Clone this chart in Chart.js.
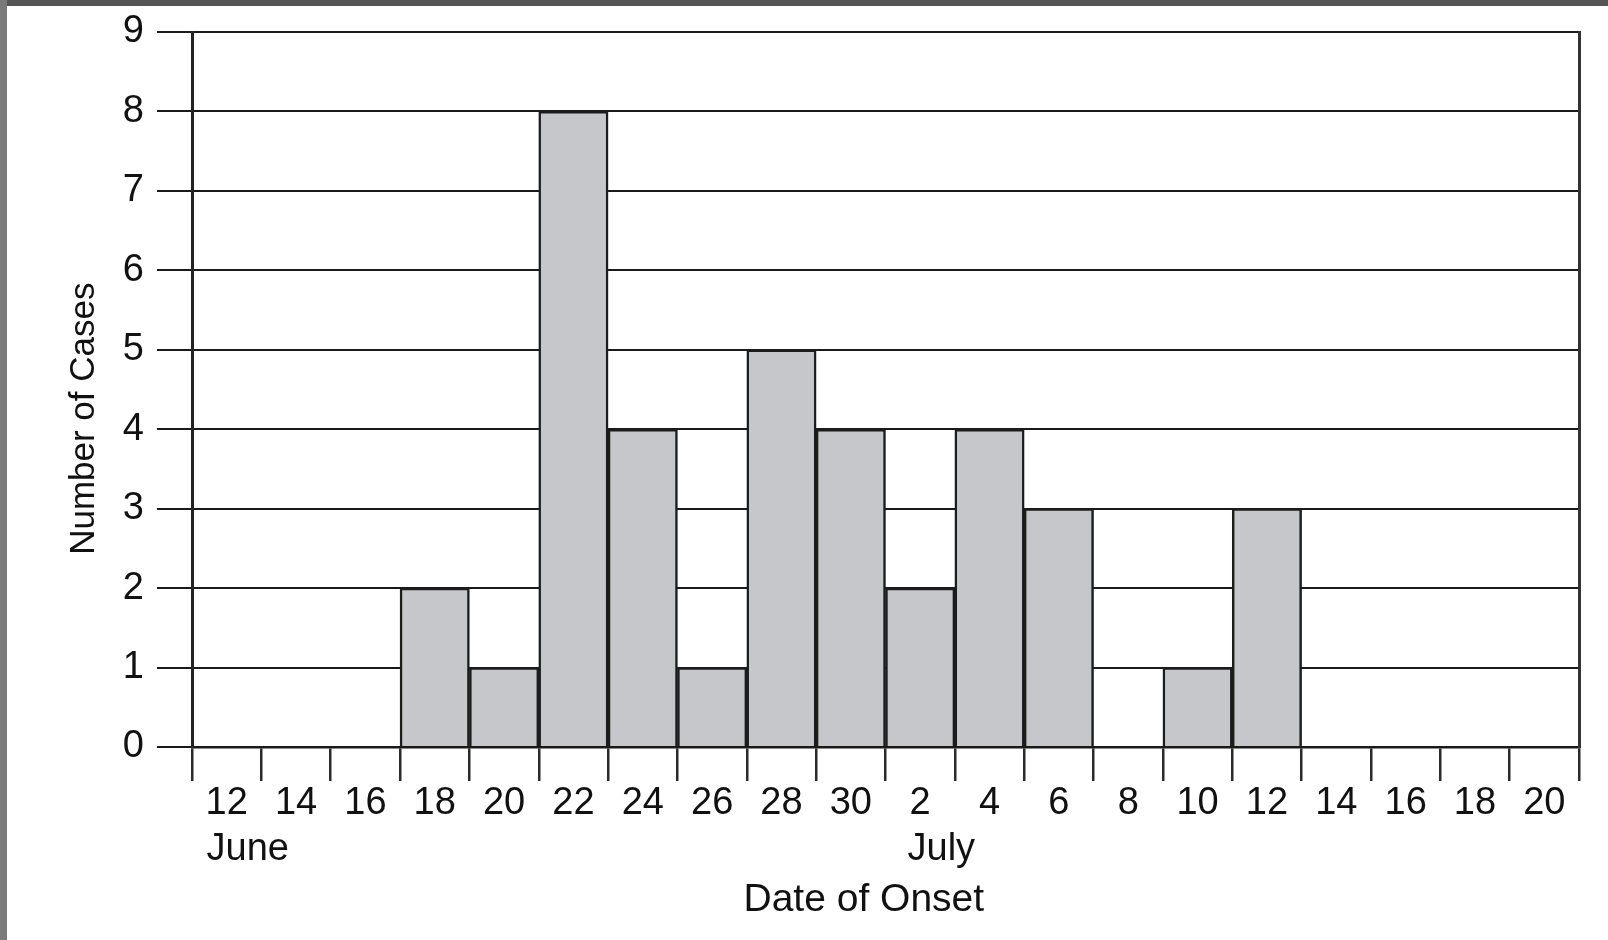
<!DOCTYPE html>
<html>
<head>
<meta charset="utf-8">
<script src="https://cdn.jsdelivr.net/npm/chart.js@4.4.1/dist/chart.umd.min.js"></script>
<style>
  html, body { margin: 0; padding: 0; background: #ffffff; }
  body { width: 1608px; height: 940px; position: relative; overflow: hidden; }
  #wrap { position: absolute; left: 0; top: 0; width: 1608px; height: 940px; }
  #topband { position: absolute; left: 0; top: 0; width: 1608px; height: 6px; background: #555555; z-index: 2; }
  #leftband { position: absolute; left: 0; top: 0; width: 7px; height: 940px; background: #7a7a7a; z-index: 2; }
</style>
</head>
<body>
<div id="wrap"><canvas id="c" width="1608" height="940"></canvas></div>
<div id="topband"></div>
<div id="leftband"></div>
<script>
// Tick labels (day of month) and month captions
const dayLabels = ['12','14','16','18','20','22','24','26','28','30','2','4','6','8','10','12','14','16','18','20'];
const monthLabels = ['June','','','','','','','','','','July','','','','','','','','',''];
// Number of cases per 2-day interval
const caseCounts = [0,0,0,2,1,8,4,1,5,4,2,4,3,0,1,3,0,0,0,0];
const yTicks = [0,1,2,3,4,5,6,7,8,9];

const labels = dayLabels.map((d, i) => monthLabels[i] ? [d, '    ' + monthLabels[i]] : [d]);

const FONT = "'Liberation Sans', Arial, Helvetica, sans-serif";
const INK = '#111111';

new Chart(document.getElementById('c'), {
  type: 'bar',
  data: {
    labels: labels,
    datasets: [{
      data: caseCounts,
      backgroundColor: '#c6c7cb',
      borderColor: '#1c1c1c',
      borderWidth: 2.5,
      borderSkipped: 'bottom',
      barPercentage: 1.0,
      categoryPercentage: 1.0
    }]
  },
  options: {
    responsive: false,
    animation: false,
    layout: { padding: { left: 0, right: 29, top: 31, bottom: 0 } },
    plugins: { legend: { display: false }, tooltip: { enabled: false } },
    scales: {
      x: {
        position: 'bottom',
        offset: true,
        grid: { offset: true, drawOnChartArea: false, drawTicks: true, tickLength: 34, color: '#2a2a2a', lineWidth: 2.5 },
        border: { display: true, color: '#1a1a1a', width: 2.5 },
        ticks: { color: INK, font: { family: FONT, size: 38 }, padding: 0, maxRotation: 0, minRotation: 0, autoSkip: false },
        title: { display: true, text: 'Date of Onset    ', color: INK, font: { family: FONT, size: 39 }, padding: { top: 0, bottom: 16 } },
        afterFit: (s) => { s.height = 193; }
      },
      y: {
        position: 'left',
        min: 0, max: 9,
        afterBuildTicks: (s) => { s.ticks = yTicks.map(v => ({ value: v })); },
        grid: { drawOnChartArea: true, drawTicks: true, tickLength: 35, color: '#1a1a1a', lineWidth: 2 },
        border: { display: true, color: '#222222', width: 3 },
        ticks: { color: INK, font: { family: FONT, size: 38, lineHeight: 1.0 }, padding: 13 },
        title: { display: true, text: 'Number of Cases      ', color: INK, font: { family: FONT, size: 35 }, padding: { top: 63, bottom: 0 } },
        afterFit: (s) => { s.width = 192; }
      },
      yRight: {
        position: 'right',
        min: 0, max: 9,
        grid: { display: false },
        border: { display: true, color: '#333333', width: 3 },
        ticks: { display: false },
        afterFit: (s) => { s.width = 0; }
      }
    }
  }
});
</script>
</body>
</html>
